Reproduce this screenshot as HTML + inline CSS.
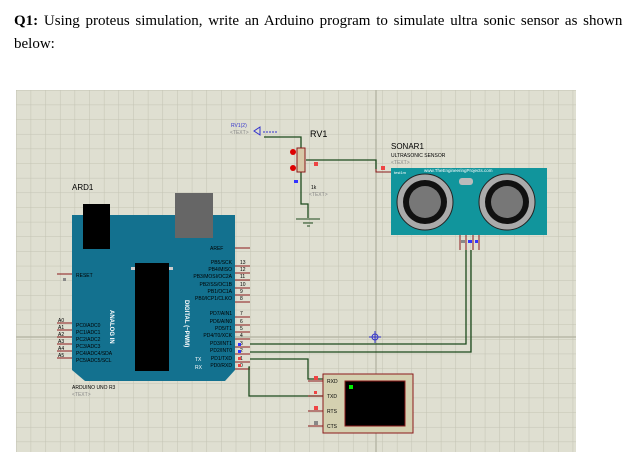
<!DOCTYPE html><html><head><style>body{margin:0;background:#fff;width:638px;height:464px;overflow:hidden;font-family:"Liberation Serif",serif}
.t{position:absolute;left:14px;font-size:15px;color:#000;word-spacing:2px;white-space:nowrap}</style></head><body>
<div class="t" style="top:13px"><b>Q1:</b> Using proteus simulation, write an Arduino program to simulate ultra sonic sensor as shown</div>
<div class="t" style="top:36px">below:</div>
<svg style="position:absolute;left:0;top:0" width="638" height="464" font-family="Liberation Sans,sans-serif">
<defs><pattern id="g" x="16" y="90" width="14.65" height="14.65" patternUnits="userSpaceOnUse"><rect width="14.65" height="14.65" fill="#dfdfd1"/><path d="M0 0H14.65M0 0V14.65" stroke="#c3c3b3" stroke-width="1"/></pattern></defs>
<rect x="16" y="90" width="560" height="362" fill="url(#g)"/>
<line x1="376" y1="90" x2="376" y2="452" stroke="#b8b8a8" stroke-width="1.5"/>
<line x1="16" y1="337" x2="576" y2="337" stroke="#b8b8a8" stroke-width="1.5"/>
<text x="231" y="127" font-size="5" fill="#33c">RV1(2)</text><text x="230" y="134" font-size="5" fill="#888">&lt;TEXT&gt;</text>
<path d="M254 131l6 -4v8z" fill="none" stroke="#33c"/><line x1="263" y1="132" x2="278" y2="132" stroke="#33c" stroke-dasharray="2 1"/>
<text x="310" y="137" font-size="9">RV1</text>
<g fill="none" stroke="#1c4a1c" stroke-width="1.3"><path d="M264 137H301V148M301 172V204H308V218M306 160H376V169"/></g>
<path d="M296 219H320M303 223H313M307 226H310" stroke="#1c4a1c"/>
<rect x="297" y="148" width="8" height="24" fill="#d8c8a8" stroke="#8b1a1a"/>
<circle cx="293" cy="152" r="3" fill="#d00"/><circle cx="293" cy="168" r="3" fill="#d00"/>
<rect x="294" y="180" width="4" height="3" fill="#33f"/><rect x="314" y="162" width="4" height="4" fill="#e44"/>
<text x="311" y="189" font-size="5">1k</text><text x="309" y="196" font-size="5" fill="#888">&lt;TEXT&gt;</text>
<path d="M376 169V172H391" stroke="#8b1a1a" fill="none"/><rect x="381" y="166" width="4" height="4" fill="#e44"/>
<text x="391" y="149" font-size="8">SONAR1</text><text x="391" y="157" font-size="5">ULTRASONIC SENSOR</text><text x="391" y="164" font-size="5" fill="#888">&lt;TEXT&gt;</text>
<rect x="391" y="168" width="156" height="67" fill="#11959c"/>
<text x="394" y="174" font-size="4" fill="#fff">test1m</text><text x="424" y="172" font-size="4.5" fill="#fff">www.TheEngineeringProjects.com</text>
<rect x="459" y="178" width="14" height="7" rx="3" fill="#bbb"/>
<circle cx="425" cy="202" r="28" fill="#aaa" stroke="#222"/><circle cx="425" cy="202" r="22" fill="#111"/><circle cx="425" cy="202" r="16" fill="#777"/>
<circle cx="507" cy="202" r="28" fill="#aaa" stroke="#222"/><circle cx="507" cy="202" r="22" fill="#111"/><circle cx="507" cy="202" r="16" fill="#777"/>
<g stroke="#8b1a1a"><path d="M460 235V250M466 235V250M473 235V250M479 235V250"/></g>
<rect x="461" y="240" width="4" height="3" fill="#888"/><rect x="468" y="240" width="4" height="3" fill="#33f"/><rect x="475" y="240" width="3" height="3" fill="#33f"/>
<text x="72" y="190" font-size="8">ARD1</text>
<path d="M72 215H235V370L225 381H85L72 370Z" fill="#13718f"/>
<rect x="175" y="193" width="38" height="45" fill="#666"/><rect x="83" y="204" width="27" height="45" fill="#000"/>
<rect x="135" y="263" width="34" height="108" fill="#000"/>
<g fill="#ccc"><path d="M131 267h4v3h-4zM169 267h4v3h-4z"/></g>
<text x="210" y="250" font-size="5" fill="#000">AREF</text>
<g stroke="#8b1a1a" stroke-width="1"><path d="M235 248H250M235 266H250M235 273H250M235 280H250M235 288H250M235 295H250M235 302H250M235 317H250M235 325H250M235 332H250M235 339H250M235 347H250M235 354H250M235 362H250M235 369H250"/>
<path d="M57 274H72M57 323H72M57 330H72M57 337H72M57 344H72M57 351H72M57 358H72"/></g>
<g font-size="5" fill="#000" text-anchor="end"><text x="232" y="264">PB5/SCK</text><text x="232" y="271">PB4/MISO</text><text x="232" y="278">PB3/MOSI/OC2A</text><text x="232" y="286">PB2/SS/OC1B</text><text x="232" y="293">PB1/OC1A</text><text x="232" y="300">PB0/ICP1/CLKO</text><text x="232" y="315">PD7/AIN1</text><text x="232" y="323">PD6/AIN0</text><text x="232" y="330">PD5/T1</text><text x="232" y="337">PD4/T0/XCK</text><text x="232" y="345">PD3/INT1</text><text x="232" y="352">PD2/INT0</text><text x="232" y="360">PD1/TXD</text><text x="232" y="367">PD0/RXD</text></g>
<g font-size="5" fill="#000"><text x="240" y="264">13</text><text x="240" y="271">12</text><text x="240" y="278">11</text><text x="240" y="286">10</text><text x="240" y="293">9</text><text x="240" y="300">8</text><text x="240" y="315">7</text><text x="240" y="323">6</text><text x="240" y="330">5</text><text x="240" y="337">4</text><text x="240" y="345">3</text><text x="240" y="352">2</text><text x="240" y="360">1</text><text x="240" y="367">0</text>
<text x="76" y="277">RESET</text><text x="76" y="327">PC0/ADC0</text><text x="76" y="334">PC1/ADC1</text><text x="76" y="341">PC2/ADC2</text><text x="76" y="348">PC3/ADC3</text><text x="76" y="355">PC4/ADC4/SDA</text><text x="76" y="362">PC5/ADC5/SCL</text>
<text x="58" y="322">A0</text><text x="58" y="329">A1</text><text x="58" y="336">A2</text><text x="58" y="343">A3</text><text x="58" y="350">A4</text><text x="58" y="357">A5</text>
<text x="72" y="389">ARDUINO UNO R3</text><text x="72" y="396" fill="#888">&lt;TEXT&gt;</text></g>
<text transform="translate(110,310) rotate(90)" font-size="6" fill="#fff" font-weight="bold">ANALOG IN</text>
<text transform="translate(185,300) rotate(90)" font-size="6" fill="#fff" font-weight="bold">DIGITAL (~PWM)</text>
<text x="195" y="361" font-size="5" fill="#fff">TX</text><text x="195" y="369" font-size="5" fill="#fff">RX</text>
<rect x="63" y="278" width="3" height="3" fill="#888"/>
<rect x="238" y="343" width="3" height="3" fill="#33f"/><rect x="238" y="350" width="3" height="3" fill="#33f"/><rect x="238" y="357" width="3" height="3" fill="#e44"/><rect x="238" y="364" width="3" height="3" fill="#e44"/>
<g fill="none" stroke="#1c4a1c" stroke-width="1.3"><path d="M250 344H466V250M250 352H471V250M250 359H308V379H323M250 367H249V396H323"/></g>
<path d="M375 331v12M369 337h12" stroke="#33c"/><circle cx="375" cy="337" r="3" fill="none" stroke="#33c"/>
<rect x="323" y="374" width="90" height="59" fill="#d4d0b0" stroke="#8b1a1a"/>
<rect x="345" y="381" width="60" height="45" fill="#000" stroke="#8b1a1a"/><rect x="349" y="385" width="4" height="4" fill="#0e0"/>
<g stroke="#8b1a1a"><path d="M308 381H323M308 396H323M308 411H323M308 426H323"/></g>
<rect x="314" y="376" width="4" height="4" fill="#e44"/><rect x="314" y="391" width="3" height="3" fill="#e44"/><rect x="314" y="406" width="4" height="4" fill="#e44"/><rect x="314" y="421" width="4" height="4" fill="#888"/>
<g font-size="5"><text x="327" y="383">RXD</text><text x="327" y="398">TXD</text><text x="327" y="413">RTS</text><text x="327" y="428">CTS</text></g>
</svg></body></html>
